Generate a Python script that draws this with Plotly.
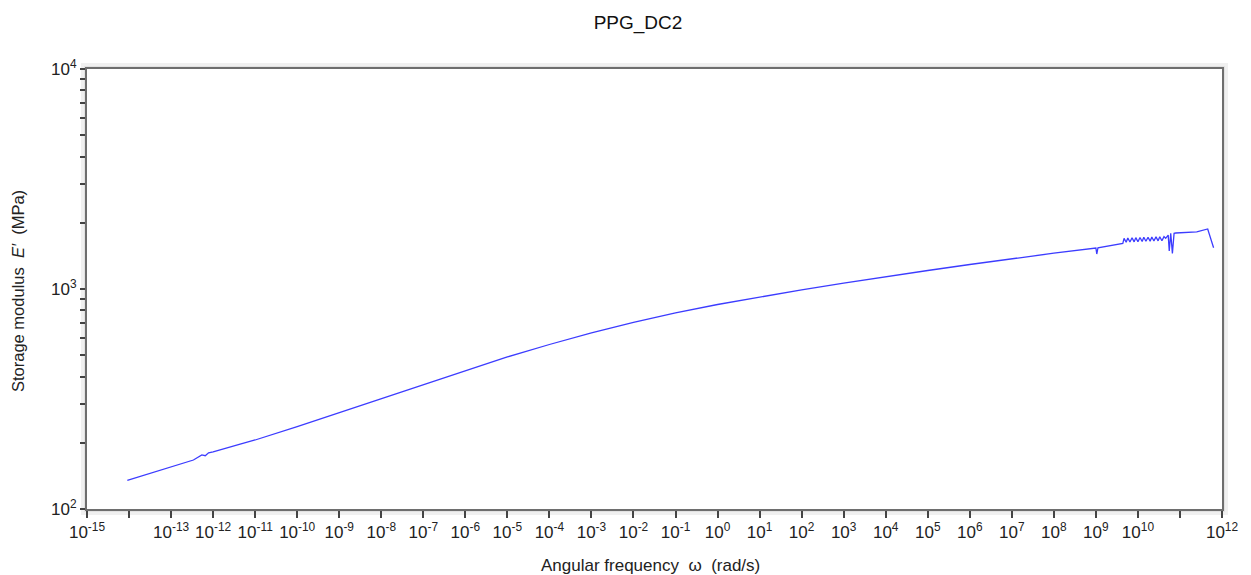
import plotly.graph_objects as go

# Angular frequency (rad/s) and storage modulus E' (MPa)
freq = [
    9.1e-15, 7.9e-14, 1.12e-13, 3.4e-13, 5.4e-13, 6.5e-13, 7.8e-13, 1.0e-12,
    4.4e-12, 1e-11, 1e-10, 1e-9, 1e-8, 1e-7, 1e-6, 1e-5, 1e-4, 1e-3, 1e-2,
    1e-1, 1e0, 1e1, 1e2, 1e3, 1e4, 1e5, 1e6, 1e7, 1e8,
    1.0e9, 1.05e9, 1.12e9, 4.37e9,
    4.68e9, 5.25e9, 5.75e9, 6.46e9, 7.24e9, 8.13e9, 8.91e9, 1.0e10, 1.12e10,
    1.26e10, 1.38e10, 1.55e10, 1.74e10, 1.95e10, 2.14e10, 2.40e10, 2.69e10,
    3.02e10, 3.31e10, 3.72e10, 4.17e10, 4.57e10,
    5.25e10, 5.56e10, 6.03e10, 6.61e10, 7.24e10, 7.94e10, 2.51e11, 4.57e11, 6.31e11,
]
storage_modulus = [
    135, 153, 157, 167, 176, 174.6, 180, 182,
    197, 205.9, 237.1, 274.6, 317.9, 368.1, 426.1, 490.9, 559.4, 631.0, 704.3,
    778.0, 850.3, 919.5, 991.7, 1062.7, 1137.4, 1213.6, 1292.3, 1372.9, 1454.6,
    1536, 1442, 1540, 1612,
    1700, 1630, 1705, 1635, 1710, 1638, 1712, 1640, 1715,
    1645, 1718, 1648, 1720, 1650, 1722, 1652, 1725, 1655,
    1728, 1658, 1730, 1700,
    1758, 1489, 1791, 1452, 1790, 1797, 1820, 1874, 1540,
]

x_exponents = list(range(-15, 13))
x_hidden = [-14, 11]
y_tick_values = [100, 200, 300, 400, 500, 600, 700, 800, 900,
                 1000, 2000, 3000, 4000, 5000, 6000, 7000, 8000, 9000, 10000]
y_labeled = {100: "10<sup>2</sup>", 1000: "10<sup>3</sup>", 10000: "10<sup>4</sup>"}

title_text = "PPG_DC2"
x_title = "Angular frequency  \u03c9  (rad/s)"
y_title = "Storage modulus  <i>E\u2032</i>  (MPa)"

# the page body adds an 8px offset; compensate so the figure lines up with the window
OFF = 8
W, H = 1251 - OFF, 575 - OFF
L, R, T, B = 87 - OFF, 1222 - OFF, 69 - OFF, 509 - OFF
pw, ph = R - L, B - T


def px(x):
    return (x - OFF - L) / pw


def py(y):
    return (B - (y - OFF)) / ph


fig = go.Figure()
fig.add_trace(go.Scatter(
    x=freq, y=storage_modulus, mode="lines",
    line=dict(color="rgb(60,60,255)", width=1.3),
    showlegend=False, hoverinfo="x+y",
))

font_family = "Liberation Sans, Arial, sans-serif"

x_ticktext = ["" if e in x_hidden else f"10<sup>{e}</sup>" for e in x_exponents]
x_tickvals = [10.0 ** e for e in x_exponents]

fig.update_xaxes(
    type="log", range=[-15, 12],
    tickvals=x_tickvals, ticktext=x_ticktext,
    ticks="outside", ticklen=7, tickwidth=1.5, tickcolor="#444",
    showline=True, linecolor="#6e6e6e", linewidth=2, mirror=True,
    showgrid=False, zeroline=False,
    tickfont=dict(family=font_family, size=17, color="#222"),
    automargin=False,
)
fig.update_yaxes(
    type="log", range=[2, 4],
    tickvals=y_tick_values,
    ticktext=[y_labeled.get(v, "") for v in y_tick_values],
    ticks="outside", ticklen=5, tickwidth=1.5, tickcolor="#444",
    showline=True, linecolor="#6e6e6e", linewidth=2, mirror=True,
    showgrid=False, zeroline=False,
    tickfont=dict(family=font_family, size=17, color="#222"),
    automargin=False,
)

# soft shadow around the plot frame (two bands)
shapes = []
for pad, col in [(6, "#f0f0f0"), (3, "#e2e2e2")]:
    x0, x1, y0, y1 = 87 - pad, 1222 + pad, 509 + pad, 69 - pad
    for (a, b, c, d) in [
        (x0, 87, y0, y1), (1222, x1, y0, y1), (x0, x1, 69, y1), (x0, x1, y0, 509)
    ]:
        shapes.append(dict(type="rect", xref="paper", yref="paper",
                           x0=px(a), x1=px(b), y0=py(c), y1=py(d),
                           fillcolor=col, line=dict(width=0), layer="below"))

annotations = [
    dict(text=x_title, xref="paper", yref="paper", x=px(650), y=py(565),
         xanchor="center", yanchor="middle", showarrow=False,
         font=dict(family=font_family, size=17, color="#222")),
    dict(text=y_title, xref="paper", yref="paper", x=px(18), y=py(291),
         xanchor="center", yanchor="middle", showarrow=False, textangle=-90,
         font=dict(family=font_family, size=16.5, color="#222")),
]

fig.update_layout(
    width=W, height=H,
    margin=dict(l=L, r=W - R, t=T, b=H - B, pad=0),
    paper_bgcolor="white", plot_bgcolor="white",
    title=dict(text=title_text, x=(638 - OFF) / W, xanchor="center", xref="container",
               y=1 - (22 - OFF) / H, yanchor="middle", yref="container",
               font=dict(family=font_family, size=19, color="#111")),
    shapes=shapes, annotations=annotations,
)

fig.write_html("out.html")
